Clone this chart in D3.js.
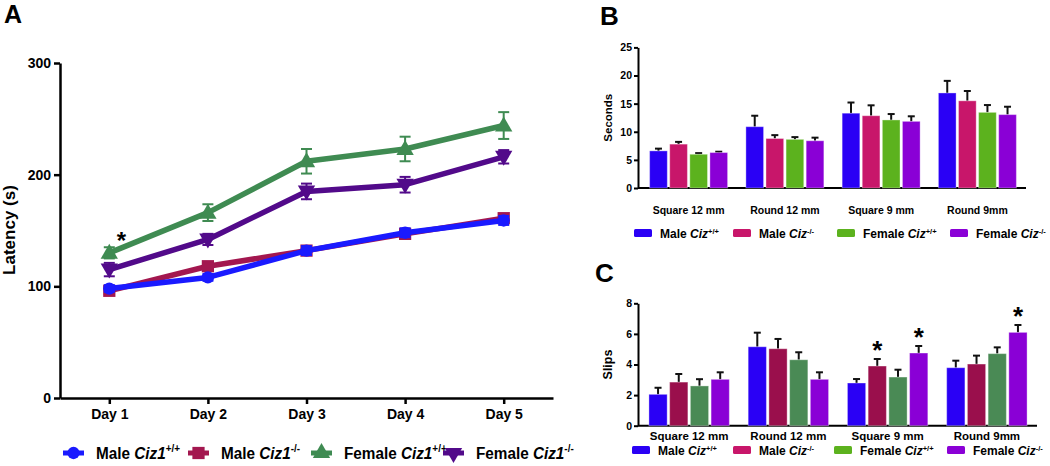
<!DOCTYPE html>
<html><head><meta charset="utf-8">
<script src="https://cdn.jsdelivr.net/npm/d3@7"></script>
<style>
body{margin:0;background:#fff}
svg{display:block}
text{font-family:"Liberation Sans",Arial,sans-serif;font-weight:bold;fill:#000}
</style>
</head><body><svg id="c" width="1050" height="466"></svg>
<script>
// ---------- Panel A data ----------
const days = ["Day 1","Day 2","Day 3","Day 4","Day 5"];
const latencyTicks = [0,100,200,300];
const maleWT = [98,108,132,148,159];
const maleWTerr = [3,3,4,4,4];
const maleKO = [96,118,132,147,161];
const maleKOerr = [3,3,3,4,4];
const femaleWT = [130,166,212,223,244];
const femaleWTerr = [5,7.5,11,11,12];
const femaleKO = [115,142,185,191,216];
const femaleKOerr = [6,5,7,7,6];
const groupSex = ["Male","Male","Female","Female"];
const genotype = ["+/+","-/-","+/+","-/-"];
const sigA = ["Day 1"];

// ---------- Panel B data ----------
const tests = ["Square 12 mm","Round 12 mm","Square 9 mm","Round 9mm"];
const secondsTicks = [0,5,10,15,20,25];
const secMaleWT = [6.6,10.9,13.3,16.9];
const secMaleWTerr = [0.4,1.95,1.9,2.15];
const secMaleKO = [7.8,8.8,12.85,15.5];
const secMaleKOerr = [0.4,0.6,1.85,1.75];
const secFemaleWT = [6.0,8.65,12.1,13.45];
const secFemaleWTerr = [0.2,0.4,1.05,1.3];
const secFemaleKO = [6.3,8.4,11.85,13.05];
const secFemaleKOerr = [0.15,0.55,0.9,1.4];

// ---------- Panel C data ----------
const slipsTicks = [0,2,4,6,8];
const slipMaleWT = [2.05,5.16,2.79,3.79];
const slipMaleWTerr = [0.43,0.92,0.26,0.46];
const slipMaleKO = [2.85,5.03,3.9,4.03];
const slipMaleKOerr = [0.53,0.64,0.46,0.55];
const slipFemaleWT = [2.6,4.31,3.18,4.71];
const slipFemaleWTerr = [0.44,0.49,0.48,0.41];
const slipFemaleKO = [3.03,3.03,4.75,6.1];
const slipFemaleKOerr = [0.46,0.46,0.46,0.48];
const sigC = [["Square 9 mm",1],["Square 9 mm",3],["Round 9mm",3]];

const svg = d3.select("#c");
const FONT = '"Liberation Sans",Arial,sans-serif';

function styleAxis(g, fs, sw){
  g.attr("font-family",FONT).attr("font-size",fs).attr("font-weight","bold");
  g.select(".domain").attr("stroke","#000").attr("stroke-width",sw);
  g.selectAll(".tick line").attr("stroke","#000").attr("stroke-width",sw);
  g.selectAll(".tick text").attr("fill","#000");
}

function labelText(sel, x, y, sex, gene, sup, fs, supfs, supdy){
  const t = sel.append("text").attr("x",x).attr("y",y).attr("font-size",fs);
  t.append("tspan").text(sex+" ");
  t.append("tspan").attr("font-style","italic").text(gene);
  t.append("tspan").attr("font-size",supfs).attr("dy",supdy).text(sup);
  return t;
}

// ================= PANEL A =================
const colorsA = ["#1a1aff","#a3174f","#3f8b52","#520a8a"];
const seriesA = [
  {v:maleWT,e:maleWTerr,sym:d3.symbolCircle,size:120,rot:0},
  {v:maleKO,e:maleKOerr,sym:d3.symbolSquare,size:150,rot:0},
  {v:femaleWT,e:femaleWTerr,sym:d3.symbolTriangle,size:130,rot:0},
  {v:femaleKO,e:femaleKOerr,sym:d3.symbolTriangle,size:130,rot:180}
];
const xA = d3.scalePoint().domain(days).range([60,553]).padding(0.5);
const yA = d3.scaleLinear().domain([0,300]).range([398,63]);
const gA = svg.append("g");
gA.append("text").attr("x",4).attr("y",23).attr("font-size",25).text("A");

gA.append("g").attr("transform","translate(60,0)")
  .call(d3.axisLeft(yA).tickValues(latencyTicks).tickFormat(d3.format("d")).tickSize(6).tickSizeOuter(0).tickPadding(3))
  .call(g=>styleAxis(g,14,2.5));
gA.append("g").attr("transform","translate(0,398)")
  .call(d3.axisBottom(xA).tickSize(6).tickSizeOuter(0).tickPadding(5))
  .call(g=>styleAxis(g,14,2.5));
gA.append("text").attr("transform","translate(15,230) rotate(-90)")
  .attr("text-anchor","middle").attr("font-size",17).text("Latency (s)");

const drawOrder = [2,3,1,0];
const line = d3.line().x((d,i)=>xA(days[i])).y(d=>yA(d));
drawOrder.forEach(k=>{
  const s = seriesA[k], c = colorsA[k];
  const g = gA.append("g");
  s.v.forEach((v,i)=>{
    const x = xA(days[i]);
    g.append("line").attr("x1",x).attr("x2",x).attr("y1",yA(v-s.e[i])).attr("y2",yA(v+s.e[i]))
      .attr("stroke",c).attr("stroke-width",2);
    [v-s.e[i], v+s.e[i]].forEach(w=>g.append("line").attr("x1",x-5.5).attr("x2",x+5.5)
      .attr("y1",yA(w)).attr("y2",yA(w)).attr("stroke",c).attr("stroke-width",2));
  });
  g.append("path").datum(s.v).attr("d",line).attr("fill","none").attr("stroke",c).attr("stroke-width",5.5)
    .attr("stroke-linejoin","round");
  g.selectAll("path.m").data(s.v).join("path").attr("class","m")
    .attr("d",d3.symbol(s.sym,s.size))
    .attr("transform",(d,i)=>`translate(${xA(days[i])},${yA(d)+(s.sym===d3.symbolTriangle?(s.rot?-1:1):0)}) rotate(${s.rot})`)
    .attr("fill",c);
});
// significance
sigA.forEach(d=>{
  const i = days.indexOf(d);
  gA.append("text").attr("x",xA(d)+12).attr("y",yA(femaleWT[i])-4)
    .attr("text-anchor","middle").attr("font-size",24).text("*");
});

// legend A
const legAx = [63,188,311,443];
const legAy = 453;
seriesA.forEach((s,k)=>{
  const g = gA.append("g").attr("transform",`translate(${legAx[k]},${legAy})`);
  g.append("line").attr("x1",0).attr("x2",21).attr("stroke",colorsA[k]).attr("stroke-width",5);
  g.append("path").attr("d",d3.symbol(s.sym,s.size)).attr("fill",colorsA[k])
    .attr("transform",`translate(10.5,0) rotate(${s.rot})`);
  const tg = g.append("g").attr("transform","translate(33,6) scale(0.9,1)");
  labelText(tg,0,0,groupSex[k],"Ciz1",genotype[k],17,11,-7);
});

// ================= Bar panels =================
function barPanel(opts){
  const g = svg.append("g");
  const x0 = d3.scaleBand().domain(tests).range(opts.band).paddingInner(0.19).paddingOuter(0.1);
  const x1 = d3.scaleBand().domain([0,1,2,3]).range([0,x0.bandwidth()]).paddingInner(0.12);
  const y = d3.scaleLinear().domain(opts.domain).range(opts.yrange);
  g.append("text").attr("x",opts.letterX).attr("y",opts.letterY).attr("font-size",26).text(opts.letter);
  g.append("g").attr("transform",`translate(${opts.axisX},0)`)
    .call(d3.axisLeft(y).tickValues(opts.ticks).tickSize(4).tickSizeOuter(0).tickPadding(2))
    .call(a=>styleAxis(a,opts.tickFs,2));
  g.append("line").attr("x1",opts.axisX).attr("x2",opts.band[1]).attr("y1",y(0)).attr("y2",y(0))
    .attr("stroke","#000").attr("stroke-width",2);
  g.append("text").attr("transform",`translate(${opts.axisX-26},${(y.range()[0]+y.range()[1])/2}) rotate(-90)`)
    .attr("text-anchor","middle").attr("font-size",opts.ylabFs).text(opts.ylabel);
  opts.series.forEach((s,k)=>{
    tests.forEach((t,i)=>{
      const bx = x0(t)+x1(k), bw = x1.bandwidth();
      const top = y(s.v[i]), et = y(s.v[i]+s.e[i]);
      g.append("line").attr("x1",bx+bw/2).attr("x2",bx+bw/2).attr("y1",top).attr("y2",et)
        .attr("stroke","#111").attr("stroke-width",2);
      g.append("line").attr("x1",bx+bw/2-3.5).attr("x2",bx+bw/2+3.5).attr("y1",et).attr("y2",et)
        .attr("stroke","#111").attr("stroke-width",2);
      g.append("rect").attr("x",bx).attr("y",top).attr("width",bw).attr("height",y(0)-top)
        .attr("fill",opts.colors[k]).attr("stroke","rgba(255,255,255,0.35)").attr("stroke-width",1);
    });
  });
  if(opts.sig){
    opts.sig.forEach(([t,k])=>{
      const i = tests.indexOf(t), s = opts.series[k];
      const cx = x0(t)+x1(k)+x1.bandwidth()/2;
      const cy = y(s.v[i]+s.e[i]) - 14;
      g.append("text").attr("x",cx).attr("y",cy+0.55*26).attr("text-anchor","middle")
        .attr("font-size",26).text("*");
    });
  }
  g.selectAll("text.cat").data(tests).join("text").attr("class","cat")
    .attr("x",d=>x0(d)+x0.bandwidth()/2).attr("y",opts.catY)
    .attr("text-anchor","middle").attr("font-size",opts.catFs).text(d=>d);
  // legend
  opts.legX.forEach((lx,k)=>{
    g.append("rect").attr("x",lx).attr("y",opts.legY-4).attr("width",18).attr("height",8)
      .attr("rx",1.5).attr("fill",opts.legColors[k]);
    labelText(g, lx+26, opts.legY+4.5, groupSex[k], "Ciz", genotype[k], 12, 7.5, -4);
  });
}

const legColors = ["#2a00f5","#c8166a","#5cb21e","#8a00d6"];
barPanel({
  letter:"B", letterX:600, letterY:25,
  band:[640,1026], axisX:638, domain:[0,25], yrange:[188,47.4], ticks:secondsTicks, tickFs:10.5,
  ylabel:"Seconds", ylabFs:11.5,
  series:[{v:secMaleWT,e:secMaleWTerr},{v:secMaleKO,e:secMaleKOerr},{v:secFemaleWT,e:secFemaleWTerr},{v:secFemaleKO,e:secFemaleKOerr}],
  colors:["#2a00f5","#c8166a","#5cb21e","#8a00d6"],
  catY:213.5, catFs:10.5,
  legX:[634,733,837,950], legY:233, legColors
});
barPanel({
  letter:"C", letterX:595, letterY:282,
  band:[639,1037], axisX:638, domain:[0,8], yrange:[425.7,303.3], ticks:slipsTicks, tickFs:10.5,
  ylabel:"Slips", ylabFs:12.5,
  series:[{v:slipMaleWT,e:slipMaleWTerr},{v:slipMaleKO,e:slipMaleKOerr},{v:slipFemaleWT,e:slipFemaleWTerr},{v:slipFemaleKO,e:slipFemaleKOerr}],
  colors:["#2a00f5","#9a0f4c","#4a8a55","#8a00d6"],
  sig:sigC,
  catY:439.5, catFs:11.5,
  legX:[632,733,834,947], legY:450, legColors
});
</script>
</body></html>
